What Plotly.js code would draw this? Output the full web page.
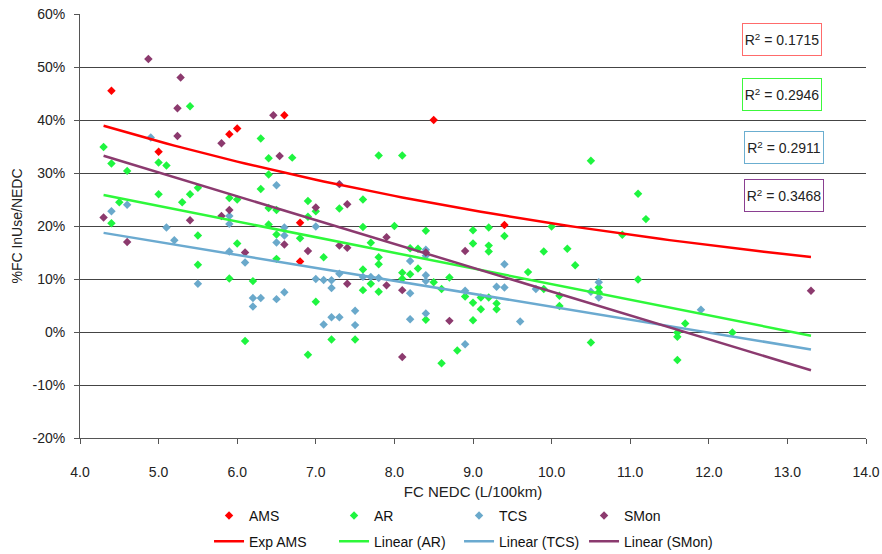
<!DOCTYPE html>
<html><head><meta charset="utf-8">
<script src="https://cdn.plot.ly/plotly-3.0.1.min.js"></script>
<style>html,body{margin:0;padding:0;background:#fff}#chart{width:882px;height:554px}</style>
</head><body><div id="chart"></div>
<script>
// ---- data (values in %) ----
const amsX = [4.4, 5.0, 5.9, 6.0, 6.6, 6.8, 6.8, 8.5, 9.4];
const amsY = [45.5, 34.0, 37.3, 38.4, 40.9, 20.6, 13.3, 40.0, 20.2];

const arX = [4.3, 4.4, 4.4, 4.5, 4.6, 5.0, 5.0, 5.1, 5.3, 5.4, 5.4, 5.5, 5.5, 5.5, 5.9, 5.9, 6.0, 6.0, 6.1, 6.2,
  6.3, 6.3, 6.4, 6.4, 6.4, 6.4, 6.5, 6.5, 6.5, 6.7, 6.8, 6.9, 6.9, 6.9, 7.0, 7.0, 7.1, 7.2, 7.3, 7.5,
  7.6, 7.6, 7.6, 7.6, 7.7, 7.7, 7.8, 7.8, 7.8, 7.8, 8.0, 8.1, 8.1, 8.1, 8.2, 8.2, 8.3, 8.3, 8.4, 8.4,
  8.5, 8.6, 8.6, 8.7, 8.8, 8.9, 9.0, 9.0, 9.0, 9.0, 9.1, 9.1, 9.2, 9.2, 9.2, 9.2, 9.3, 9.3, 9.4, 9.7,
  9.9, 9.9, 10.0, 10.1, 10.1, 10.2, 10.3, 10.5, 10.5, 10.6, 10.6, 10.9, 11.1, 11.1, 11.2, 11.6, 11.6, 11.6, 11.7, 12.3];
const arY = [34.9, 31.8, 20.5, 24.5, 30.4, 32.0, 26.0, 31.4, 24.5, 42.6, 26.0, 27.2, 18.2, 12.7, 25.3, 10.1, 25.0, 16.7, -1.7, 9.6,
  36.5, 27.0, 32.8, 29.7, 23.4, 20.3, 23.0, 18.4, 13.8, 32.9, 17.7, 24.7, 21.75, -4.3, 22.8, 5.7, 14.1, -1.4, 23.3, -1.4,
  25.0, 19.8, 11.8, 7.9, 16.85, 9.1, 33.3, 14.1, 12.8, 7.6, 20.0, 33.3, 11.2, 10.05, 15.8, 10.9, 15.7, 12.0, 19.1, 2.3,
  9.4, 8.1, -5.9, 10.3, -3.5, 6.7, 19.2, 16.7, 5.5, 2.2, 6.5, 4.3, 19.7, 16.3, 15.2, 6.5, 5.4, 4.3, 18.1, 11.3,
  15.2, 8.1, 19.9, 6.85, 4.9, 15.7, 12.6, 32.3, -2.0, 8.4, 7.5, 18.35, 26.1, 9.9, 21.3, -0.1, -0.9, -5.3, 1.6, -0.1];

const tcsX = [4.4, 4.6, 4.9, 5.1, 5.2, 5.5, 5.9, 5.9, 5.9, 6.1, 6.2, 6.2, 6.3, 6.5, 6.5, 6.5, 6.6, 6.6, 6.6, 7.0,
  7.0, 7.1, 7.1, 7.2, 7.2, 7.2, 7.3, 7.3, 7.5, 7.5, 7.6, 7.7, 7.8, 8.2, 8.2, 8.2, 8.4, 8.4, 8.4, 8.4,
  8.4, 8.9, 8.9, 9.3, 9.4, 9.4, 9.6, 9.8, 10.5, 10.6, 10.6, 11.9];
const tcsY = [22.8, 24.0, 36.7, 19.7, 17.3, 9.1, 21.9, 20.4, 15.2, 13.1, 6.4, 4.8, 6.4, 27.7, 16.9, 6.2, 19.7, 18.2, 7.5, 19.9,
  10.0, 9.8, 1.4, 9.75, 8.3, 2.8, 11.0, 2.8, 4.0, 1.3, 10.4, 10.4, 10.2, 13.4, 7.3, 2.4, 15.5, 14.4, 10.7, 9.6,
  3.5, 7.8, -2.3, 8.55, 8.4, 12.8, 2.0, 8.1, 7.6, 9.4, 6.5, 4.2];

const smonX = [4.3, 4.6, 4.87, 5.24, 5.24, 5.28, 5.4, 5.8, 5.8, 5.9, 6.1, 6.46, 6.54, 6.6, 6.9, 7.0, 7.3, 7.3, 7.4, 7.4,
  7.4, 7.9, 7.9, 8.1, 8.1, 8.4, 8.7, 8.9, 13.3];
const smonY = [21.6, 17.0, 51.5, 42.2, 37.0, 48.0, 21.1, 35.6, 21.9, 23.0, 15.0, 40.9, 33.2, 16.5, 15.3, 23.5, 27.9, 16.3, 24.1, 15.9,
  9.1, 17.9, 8.8, 7.9, -4.7, 15.0, 2.1, 15.3, 7.8];

// trendline coefficients, y in %
const expAMS = {a: 63.06, b: -0.1123};          // y = a*exp(b*x)
const linAR = {slope: -2.95, intercept: 38.54};
const linTCS = {slope: -2.444, intercept: 29.21};
const linSMon = {slope: -4.496, intercept: 52.59};
const trendRange = [4.3, 13.3];

const r2Labels = ['0.1715', '0.2946', '0.2911', '0.3468'];
const r2X = [12.93, 12.93, 12.96, 12.96];
const r2Y = [55.2, 44.8, 34.8, 25.85];
const xTicks = [4, 5, 6, 7, 8, 9, 10, 11, 12, 13, 14];
const yTicks = [-20, -10, 0, 10, 20, 30, 40, 50, 60];
const yTickText = ['-20%', '-10%', '0%', '10%', '20%', '30%', '40%', '50%', '60%'];

// ---- build ----
const FONT = '"Liberation Sans Narrow", "Arial Narrow", "Liberation Sans", Arial, sans-serif';
const cAMS = '#FF0000', cAR = '#1EF53F', cTCS = '#6AA9CB', cSMon = '#8C3A6E';

const sampleX = [];
for (let i = 0; i <= 90; i++) sampleX.push(trendRange[0] + (trendRange[1] - trendRange[0]) * i / 90);
const lin = c => sampleX.map(x => c.slope * x + c.intercept);

function pts(name, x, y, color) {
  return {type: 'scatter', mode: 'markers', name, x, y, legend: 'legend',
    marker: {symbol: 'diamond', size: 6.5, color}, cliponaxis: false};
}
function line(name, y, color) {
  return {type: 'scatter', mode: 'lines', name, x: sampleX, y, legend: 'legend2',
    line: {color, width: 2.5}};
}

const traces = [
  pts('AMS', amsX, amsY, cAMS),
  pts('AR', arX, arY, cAR),
  pts('TCS', tcsX, tcsY, cTCS),
  pts('SMon', smonX, smonY, cSMon),
  line('Exp AMS', sampleX.map(x => expAMS.a * Math.exp(expAMS.b * x)), '#FF0000'),
  line('Linear (AR)', lin(linAR), '#2EF83A'),
  line('Linear (TCS)', lin(linTCS), '#6BAAD0'),
  line('Linear (SMon)', lin(linSMon), '#8B3A6F'),
  // invisible spacer so the last legend label is not clipped
  {type: 'scatter', mode: 'lines', name: ' ', x: [null], y: [null], legend: 'legend2',
    line: {color: 'rgba(0,0,0,0)', width: 0}, hoverinfo: 'skip'}
];

const boxColors = ['#FF6B6B', '#3CF83C', '#6BAED0', '#8A3F91'];
const annotations = r2Labels.map((v, i) => ({
  x: r2X[i], y: r2Y[i], xref: 'x', yref: 'y', showarrow: false,
  text: 'R<sup>2</sup> = ' + v, font: {family: FONT, size: 14, color: '#222'},
  bordercolor: boxColors[i], borderwidth: 1, bgcolor: '#fff', width: 78, height: 31, borderpad: 0
}));

const legendCommon = {orientation: 'h', xref: 'container', yref: 'container', xanchor: 'left', yanchor: 'middle',
  entrywidth: 80, entrywidthmode: 'pixels', itemwidth: 30, font: {family: FONT, size: 14, color: '#111'},
  bgcolor: 'rgba(0,0,0,0)', tracegroupgap: 0};

const layout = {
  width: 882, height: 554,
  margin: {l: 80, r: 16, t: 14, b: 116},
  paper_bgcolor: '#fff', plot_bgcolor: '#fff',
  font: {family: FONT, size: 14, color: '#222'},
  showlegend: true,
  xaxis: {
    range: [4, 14], tickvals: xTicks, tickformat: '.1f', showgrid: false, zeroline: false,
    showline: true, linecolor: '#555', linewidth: 1, ticks: 'outside', ticklen: 5, tickcolor: '#555',
    ticklabelstandoff: 16, automargin: false,
    title: {text: 'FC NEDC (L/100km)', font: {family: FONT, size: 15}, standoff: 9},
    tickfont: {family: FONT, size: 14}
  },
  yaxis: {
    range: [-20, 60], tickmode: 'array', tickvals: yTicks, ticktext: yTickText,
    showgrid: true, gridcolor: '#444', gridwidth: 1, automargin: false,
    zeroline: false, showline: true, linecolor: '#555', linewidth: 1, ticks: 'outside', ticklen: 5, tickcolor: '#555',
    ticklabelstandoff: 6,
    title: {text: '%FC InUse/NEDC', font: {family: FONT, size: 14}, standoff: 6},
    tickfont: {family: FONT, size: 14}
  },
  legend: Object.assign({}, legendCommon, {x: 0.237, y: 0.0686}),
  legend2: Object.assign({}, legendCommon, {x: 0.237, y: 0.0222}),
  annotations
};

Plotly.newPlot('chart', traces, layout, {displayModeBar: false, staticPlot: true});
</script></body></html>
